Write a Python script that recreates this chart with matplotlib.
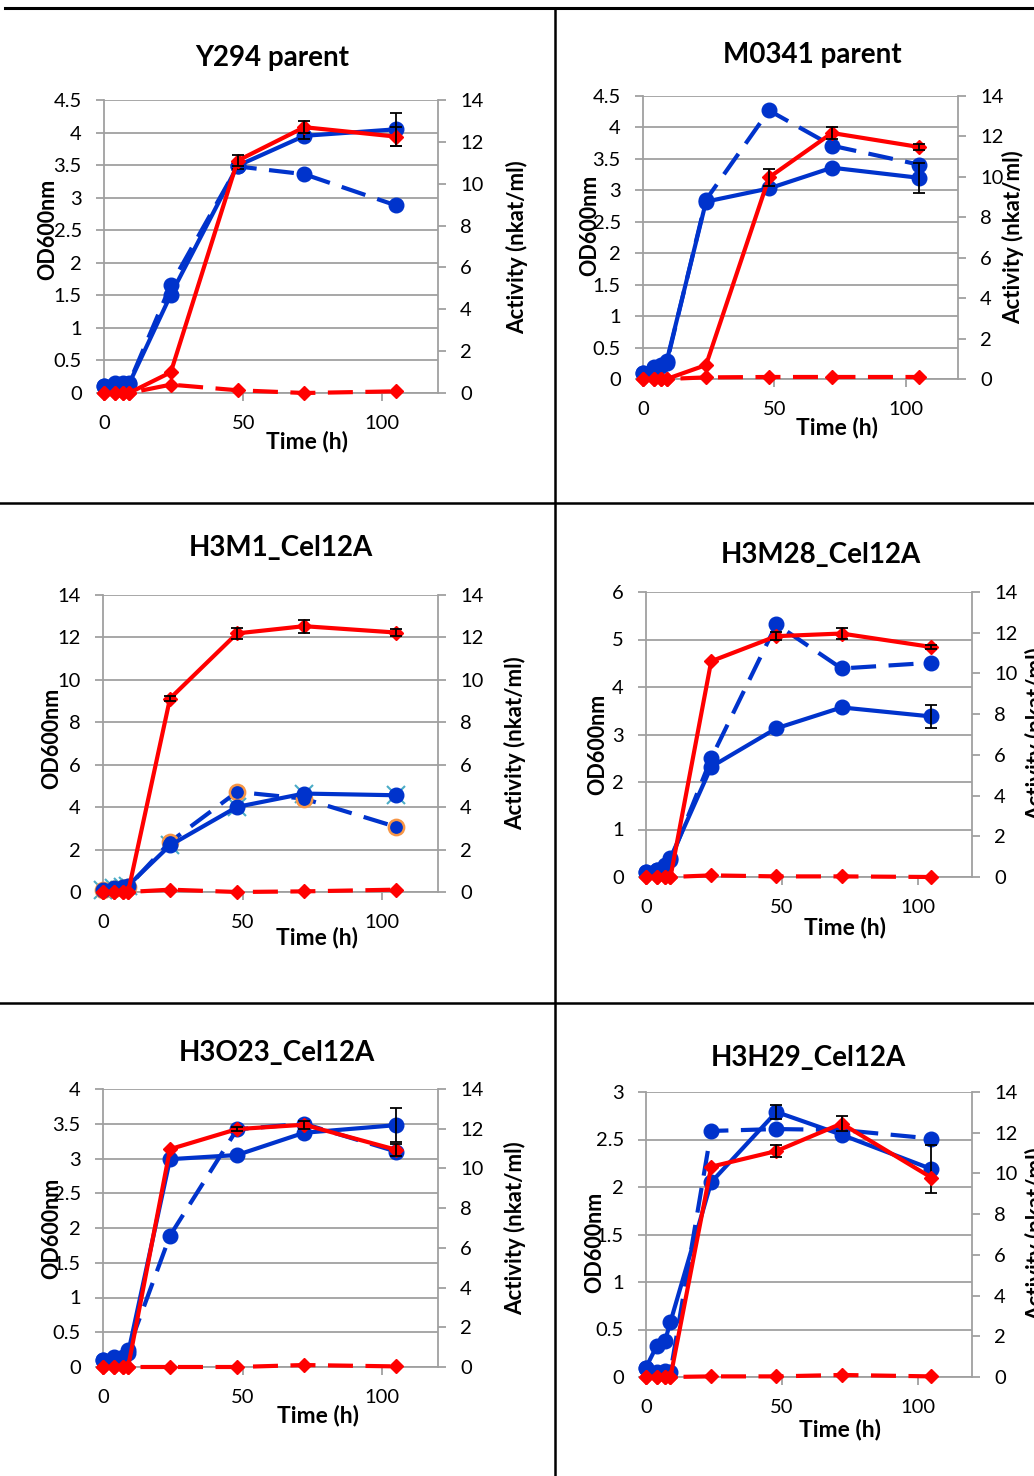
import numpy as np
import matplotlib
matplotlib.use("Agg")
import matplotlib.pyplot as plt
from matplotlib.lines import Line2D

# sampling times (h), shared by all strains
time = [0, 4, 7, 9, 24, 48, 72, 105]

# Y294 parent
y294_od_a = [0.10, 0.14, 0.14, 0.14, 1.51, 3.49, 3.95, 4.05]
y294_od_a_err = [0, 0, 0, 0, 0, 0.05, 0.05, 0.25]
y294_od_b = [0.10, 0.15, 0.15, 0.15, 1.66, 3.48, 3.36, 2.88]
y294_act_a = [0, 0, 0, 0, 0.99, 11.1, 12.7, 12.25]
y294_act_a_err = [0, 0, 0, 0, 0, 0.25, 0.3, 0.45]
y294_act_b = [0, 0, 0, 0, 0.40, 0.13, 0.0, 0.08]

# M0341 parent
m0341_od_a = [0.10, 0.19, 0.22, 0.28, 2.82, 3.03, 3.36, 3.20]
m0341_od_a_err = [0, 0, 0, 0, 0, 0, 0, 0.24]
m0341_od_b = [0.10, 0.17, 0.20, 0.25, 2.85, 4.27, 3.71, 3.41]
m0341_act_a = [0, 0, 0, 0, 0.69, 9.97, 12.17, 11.48]
m0341_act_a_err = [0, 0, 0, 0, 0, 0.4, 0.3, 0.15]
m0341_act_b = [0, 0, 0, 0, 0.08, 0.10, 0.10, 0.10]

# H3M1_Cel12A
h3m1_od_a = [0.10, 0.20, 0.25, 0.30, 2.20, 4.01, 4.64, 4.56]
h3m1_od_a_err = [0, 0, 0, 0, 0, 0, 0, 0]
h3m1_od_b = [0.10, 0.15, 0.20, 0.25, 2.36, 4.72, 4.40, 3.07]
h3m1_act_a = [0, 0, 0, 0, 9.12, 12.19, 12.53, 12.23]
h3m1_act_a_err = [0, 0, 0, 0, 0.1, 0.25, 0.3, 0.15]
h3m1_act_b = [0, 0, 0, 0, 0.11, 0.0, 0.03, 0.11]

# H3M28_Cel12A
h3m28_od_a = [0.10, 0.15, 0.20, 0.40, 2.32, 3.13, 3.57, 3.38]
h3m28_od_a_err = [0, 0, 0, 0, 0, 0, 0, 0.25]
h3m28_od_b = [0.10, 0.15, 0.25, 0.35, 2.50, 5.32, 4.39, 4.51]
h3m28_act_a = [0, 0, 0, 0, 10.6, 11.83, 11.96, 11.30]
h3m28_act_a_err = [0, 0, 0, 0, 0, 0.2, 0.25, 0.1]
h3m28_act_b = [0, 0, 0, 0, 0.08, 0.03, 0.03, 0.0]

# H3O23_Cel12A
h3o23_od_a = [0.10, 0.12, 0.13, 0.20, 2.99, 3.05, 3.37, 3.48]
h3o23_od_a_err = [0, 0, 0, 0, 0, 0, 0, 0.24]
h3o23_od_b = [0.10, 0.15, 0.15, 0.25, 1.89, 3.42, 3.50, 3.10]
h3o23_act_a = [0, 0, 0, 0, 10.97, 11.98, 12.20, 10.94]
h3o23_act_a_err = [0, 0, 0, 0, 0, 0.1, 0.2, 0.3]
h3o23_act_b = [0, 0, 0, 0, 0.0, 0.0, 0.10, 0.03]

# H3H29_Cel12A
h3h29_od_a = [0.10, 0.33, 0.38, 0.58, 2.05, 2.79, 2.55, 2.19]
h3h29_od_a_err = [0, 0, 0, 0, 0, 0.07, 0, 0.25]
h3h29_od_b = [0.10, 0.05, 0.06, 0.05, 2.59, 2.61, 2.60, 2.51]
h3h29_act_a = [0, 0, 0, 0, 10.33, 11.10, 12.45, 9.80]
h3h29_act_a_err = [0, 0, 0, 0, 0, 0.3, 0.35, 0]
h3h29_act_b = [0, 0, 0, 0, 0.03, 0.03, 0.10, 0.03]

titles = ["Y294 parent", "M0341 parent", "H3M1_Cel12A",
          "H3M28_Cel12A", "H3O23_Cel12A", "H3H29_Cel12A"]

W, H = 1034, 1476
BLUE = "#0033CC"
RED = "#FF0000"
GRAY = "#A0A0A0"
DASH = (0, (6, 3))

plt.rcParams['font.family'] = ['Lato', 'DejaVu Sans']

fig = plt.figure(figsize=(W / 100, H / 100), dpi=100)


def fx(x):
    return x / W


def fy(y):
    return 1 - y / H


def err_bars(ax, y, err):
    idx = [i for i, e in enumerate(err) if e > 0]
    if not idx:
        return
    ax.errorbar([time[i] for i in idx], [y[i] for i in idx],
                yerr=[err[i] for i in idx], fmt='none', ecolor='black',
                elinewidth=1.3, capsize=4, capthick=1.3, zorder=6, clip_on=False)


def draw_panel(box, title, od_a, od_a_err, od_b, act_a, act_a_err, act_b,
               ymax, ystep, title_xy, od_xy, act_xy, time_xy, odd_markers=False):
    l, r, t, b = box
    ax = fig.add_axes([fx(l), fy(b), (r - l) / W, (b - t) / H])
    ax2 = ax.twinx()

    if odd_markers:
        # leftover excel marker styles in this panel
        ax.plot(time, od_a, ls='none', marker='x', ms=13, mew=1.5,
                color="#4BACC6", zorder=2, clip_on=False)
        ax.plot(time, od_b, color=BLUE, lw=3, ls=DASH, marker='o', ms=11,
                mec="#F79646", mew=1.8, zorder=3, clip_on=False)
    else:
        ax.plot(time, od_b, color=BLUE, lw=3, ls=DASH, marker='o', ms=10.5,
                zorder=3, clip_on=False)
    ax.plot(time, od_a, color=BLUE, lw=3, marker='o', ms=10.5, zorder=4,
            clip_on=False)
    err_bars(ax, od_a, od_a_err)

    ax2.plot(time, act_b, color=RED, lw=3, ls=DASH, marker='D', ms=7.5,
             zorder=3, clip_on=False)
    ax2.plot(time, act_a, color=RED, lw=3, marker='D', ms=7.5, zorder=4,
             clip_on=False)
    err_bars(ax2, act_a, act_a_err)

    ax.set_xlim(0, 120)
    ax.set_xticks([0, 50, 100])
    yt = np.arange(0, ymax + 1e-9, ystep)
    ax.set_ylim(0, ymax)
    ax.set_yticks(yt)
    ax.set_yticklabels([f"{v:g}" for v in yt])
    ax2.set_ylim(0, 14)
    ax2.set_yticks(np.arange(0, 15, 2))

    ax.yaxis.grid(True, color=GRAY, lw=1.3)
    ax.set_axisbelow(True)
    for a in (ax, ax2):
        for s in a.spines.values():
            s.set_visible(False)
    ax.spines['left'].set_visible(True)
    ax.spines['bottom'].set_visible(True)
    ax2.spines['right'].set_visible(True)
    for s in (ax.spines['left'], ax.spines['bottom'], ax2.spines['right']):
        s.set_color(GRAY)
        s.set_linewidth(1.3)

    ax.tick_params(axis='y', direction='out', length=6, width=1.3, color=GRAY,
                   pad=10, labelsize=14.5)
    ax.tick_params(axis='x', direction='out', length=6, width=1.3, color=GRAY,
                   pad=10, labelsize=14.5)
    ax2.tick_params(axis='y', direction='out', length=6, width=1.3, color=GRAY,
                    pad=10, labelsize=14.5)

    fig.text(fx(title_xy[0]), fy(title_xy[1]), title, ha='center', va='center',
             fontsize=20, fontweight='bold')
    fig.text(fx(od_xy[0]), fy(od_xy[1]), "OD600nm", rotation=90, ha='center',
             va='center', fontsize=15.5, fontweight='bold')
    fig.text(fx(act_xy[0]), fy(act_xy[1]), "Activity (nkat/ml)", rotation=90,
             ha='center', va='center', fontsize=16, fontweight='bold')
    fig.text(fx(time_xy[0]), fy(time_xy[1]), "Time (h)", ha='center',
             va='center', fontsize=16.5, fontweight='bold')


draw_panel((104, 438, 100, 393), titles[0], y294_od_a, y294_od_a_err, y294_od_b,
           y294_act_a, y294_act_a_err, y294_act_b, 4.5, 0.5,
           (272, 58), (48, 229), (517, 247), (307, 442))
draw_panel((643, 958, 96, 379), titles[1], m0341_od_a, m0341_od_a_err, m0341_od_b,
           m0341_act_a, m0341_act_a_err, m0341_act_b, 4.5, 0.5,
           (812, 55), (590, 225), (1013, 237), (837, 427))
draw_panel((103, 438, 595, 892), titles[2], h3m1_od_a, h3m1_od_a_err, h3m1_od_b,
           h3m1_act_a, h3m1_act_a_err, h3m1_act_b, 14, 2,
           (281, 548), (52, 738), (515, 743), (317, 938), odd_markers=True)
draw_panel((646, 972, 592, 877), titles[3], h3m28_od_a, h3m28_od_a_err, h3m28_od_b,
           h3m28_act_a, h3m28_act_a_err, h3m28_act_b, 6, 1,
           (821, 555), (598, 744), (1036, 734), (845, 927))
draw_panel((103, 438, 1089, 1367), titles[4], h3o23_od_a, h3o23_od_a_err, h3o23_od_b,
           h3o23_act_a, h3o23_act_a_err, h3o23_act_b, 4, 0.5,
           (277, 1053), (52, 1228), (515, 1228), (318, 1415))
draw_panel((646, 972, 1092, 1377), titles[5], h3h29_od_a, h3h29_od_a_err, h3h29_od_b,
           h3h29_act_a, h3h29_act_a_err, h3h29_act_b, 3, 0.5,
           (808, 1058), (595, 1242), (1036, 1234), (840, 1430))

# table borders around the panels
for (x0, y0, x1, y1, lw) in [(5, 8, 1034, 8, 2.2), (555, 8, 555, 1476, 1.8),
                             (0, 503, 1034, 503, 1.8), (0, 1003, 1034, 1003, 1.8)]:
    fig.add_artist(Line2D([fx(x0), fx(x1)], [fy(y0), fy(y1)], color='black', lw=lw))

fig.savefig("out.png", dpi=100)
